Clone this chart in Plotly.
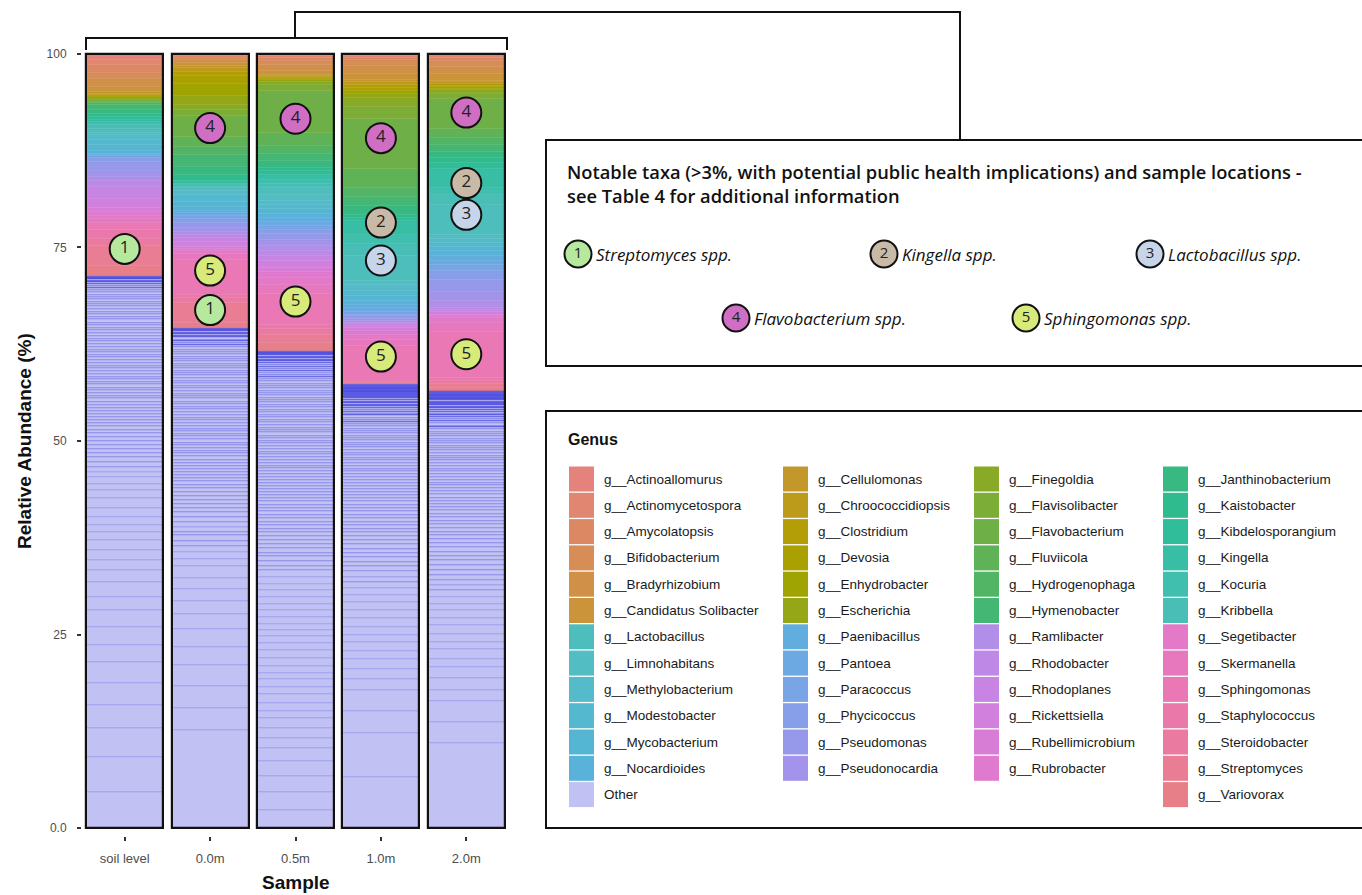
import math
import plotly.graph_objects as go

# ---------------- data ----------------
samples = ["soil level", "0.0m", "0.5m", "1.0m", "2.0m"]

genera = [
    "Actinoallomurus", "Actinomycetospora", "Amycolatopsis", "Bifidobacterium", "Bradyrhizobium",
    "Candidatus Solibacter", "Cellulomonas", "Chroococcidiopsis", "Clostridium", "Devosia",
    "Enhydrobacter", "Escherichia", "Finegoldia", "Flavisolibacter", "Flavobacterium",
    "Fluviicola", "Hydrogenophaga", "Hymenobacter", "Janthinobacterium", "Kaistobacter",
    "Kibdelosporangium", "Kingella", "Kocuria", "Kribbella", "Lactobacillus",
    "Limnohabitans", "Methylobacterium", "Modestobacter", "Mycobacterium", "Nocardioides",
    "Paenibacillus", "Pantoea", "Paracoccus", "Phycicoccus", "Pseudomonas",
    "Pseudonocardia", "Ramlibacter", "Rhodobacter", "Rhodoplanes", "Rickettsiella",
    "Rubellimicrobium", "Rubrobacter", "Segetibacter", "Skermanella", "Sphingomonas",
    "Staphylococcus", "Steroidobacter", "Streptomyces", "Variovorax",
]

# relative abundance (%) of each genus, in the order of `genera`
genus_soil = [0.8, 0.6, 1.1, 0.8, 1.0, 0.7, 0.2, 0.1, 0.1, 0.1,
              0.1, 0.2, 0.1, 0.1, 0.2, 0.1, 0.3, 0.7, 0.5, 0.4,
              0.3, 0.3, 0.4, 0.5, 0.5, 0.3, 0.6, 0.7, 0.7, 0.5,
              0.1, 0.1, 0.2, 0.6, 1.2, 0.7, 0.5, 0.8, 1.5, 1.2,
              0.5, 0.6, 0.4, 0.4, 1.0, 1.1, 0.9, 2.6, 1.3]
genus_0m = [0.2, 0.15, 0.15, 0.3, 0.4, 0.4, 0.3, 0.4, 0.6, 1.0,
            1.5, 1.2, 0.6, 0.9, 2.6, 1.4, 1.0, 1.5, 1.0, 0.8,
            0.2, 0.2, 0.2, 0.15, 0.15, 0.4, 0.6, 0.8, 0.7, 0.5,
            0.3, 0.3, 0.4, 0.5, 0.7, 0.5, 0.4, 0.4, 0.5, 0.6,
            0.3, 0.3, 0.4, 0.7, 4.5, 0.5, 0.6, 2.6, 0.6]
genus_05m = [0.3, 0.3, 0.3, 0.6, 0.7, 0.6, 0.1, 0.1, 0.1, 0.1,
             0.2, 0.3, 0.3, 0.8, 5.4, 1.7, 1.0, 1.0, 0.8, 0.5,
             0.5, 0.6, 0.5, 0.5, 0.9, 0.8, 0.5, 0.6, 0.6, 0.5,
             0.5, 0.5, 0.5, 0.6, 0.8, 0.7, 0.7, 0.6, 0.7, 0.8,
             0.6, 0.8, 0.8, 1.2, 4.0, 0.6, 0.7, 1.0, 1.1]
genus_1m = [0.3, 0.25, 0.25, 0.8, 1.0, 0.8, 0.3, 0.3, 0.4, 0.4,
            0.4, 0.5, 1.2, 1.5, 6.5, 2.4, 1.2, 1.2, 1.1, 0.4,
            0.4, 1.8, 1.2, 1.5, 3.2, 0.6, 0.7, 0.7, 0.6, 0.5,
            0.4, 0.5, 0.4, 0.2, 0.3, 0.3, 0.2, 0.2, 0.25, 0.25,
            0.4, 0.5, 0.6, 0.8, 4.5, 0.1, 0.1, 0.15, 0.15]
genus_2m = [0.2, 0.3, 0.4, 0.8, 0.9, 0.9, 0.2, 0.2, 0.2, 0.2,
            0.2, 0.2, 0.5, 0.7, 3.8, 1.2, 0.9, 0.9, 0.7, 0.7,
            0.8, 2.4, 1.0, 1.2, 3.9, 0.5, 0.5, 0.6, 0.5, 0.6,
            0.6, 0.6, 0.8, 1.1, 1.5, 1.2, 0.9, 0.3, 0.3, 0.3,
            0.2, 0.2, 0.7, 1.1, 6.0, 0.3, 0.4, 0.5, 0.4]

# "Other": cumulative tops (%) of the stacked rare-taxa pieces, bottom to top
other_soil = [4.7, 9.2, 12.9, 15.9, 18.7, 21.5, 23.6, 26.0, 28.2, 29.9, 31.8, 33.3, 34.6, 35.9,
              37.2, 38.3, 39.1, 40.2, 41.3, 42.6, 43.7, 44.5, 45.3, 46.0, 46.7, 47.3, 47.9, 48.5,
              49.0, 49.5, 50.0, 50.5, 51.0, 51.4, 51.9, 52.3, 52.7, 53.1, 53.5, 53.9, 54.3, 54.7,
              55.1, 55.5, 55.8, 56.2, 56.6, 56.9, 57.3, 57.6, 58.0, 58.3, 58.7, 59.0, 59.4, 59.7,
              60.1, 60.4, 60.8, 61.1, 61.5, 61.8, 62.2, 62.5, 62.9, 63.2, 63.6, 63.9, 64.3, 64.6,
              65.0, 65.3, 65.7, 66.0, 66.4, 66.7, 67.1, 67.4, 67.7, 68.0, 68.3, 68.6, 68.9, 69.2,
              69.5, 69.8, 70.0, 70.3, 70.5, 70.7, 70.9, 71.0, 71.1, 71.2, 71.3]
other_0m = [12.7, 15.5, 18.4, 21.1, 23.4, 25.7, 27.7, 29.4, 30.9, 32.3, 33.8, 34.8, 35.7, 36.5,
            37.1, 37.8, 38.3, 38.9, 39.6, 40.2, 40.8, 41.3, 41.9, 42.4, 42.9, 43.4, 43.9, 44.3,
            44.8, 45.2, 45.6, 46.0, 46.4, 46.8, 47.2, 47.6, 48.0, 48.4, 48.7, 49.1, 49.5, 49.8,
            50.2, 50.6, 50.9, 51.3, 51.6, 52.0, 52.3, 52.7, 53.0, 53.4, 53.7, 54.1, 54.4, 54.8,
            55.1, 55.5, 55.8, 56.1, 56.5, 56.8, 57.1, 57.5, 57.8, 58.1, 58.5, 58.8, 59.1, 59.4,
            59.7, 60.0, 60.3, 60.6, 60.9, 61.2, 61.5, 61.8, 62.1, 62.4, 62.6, 62.9, 63.1, 63.4,
            63.6, 63.8, 64.0, 64.15, 64.3, 64.4, 64.5, 64.6]
other_05m = [2.3, 4.7, 6.7, 8.7, 10.3, 11.7, 13.0, 14.2, 15.2, 16.2, 17.3, 18.3, 19.3, 20.1,
             21.0, 22.0, 23.0, 23.9, 24.8, 25.6, 26.4, 27.3, 28.2, 29.0, 29.9, 30.7, 31.6, 32.5,
             33.3, 33.9, 34.5, 35.1, 35.6, 36.2, 36.7, 37.2, 37.7, 38.2, 38.7, 39.2, 39.6, 40.1,
             40.5, 41.0, 41.4, 41.8, 42.2, 42.6, 43.0, 43.4, 43.8, 44.2, 44.6, 45.0, 45.4, 45.7,
             46.1, 46.5, 46.8, 47.2, 47.6, 47.9, 48.3, 48.6, 49.0, 49.3, 49.7, 50.0, 50.4, 50.7,
             51.1, 51.4, 51.7, 52.1, 52.4, 52.7, 53.1, 53.4, 53.7, 54.0, 54.4, 54.7, 55.0, 55.3,
             55.6, 55.9, 56.2, 56.5, 56.8, 57.1, 57.4, 57.7, 58.0, 58.3, 58.5, 58.8, 59.1, 59.3,
             59.6, 59.8, 60.1, 60.3, 60.5, 60.7, 60.9, 61.05, 61.2, 61.3, 61.4, 61.5, 61.6]
other_1m = [6.6, 12.3, 15.1, 17.9, 19.3, 20.6, 21.8, 22.9, 24.0, 25.0, 26.0, 27.2, 28.2, 29.2,
            30.1, 31.0, 31.8, 32.5, 33.2, 33.8, 34.4, 35.0, 35.6, 36.1, 36.7, 37.2, 37.7, 38.2,
            38.7, 39.2, 39.6, 40.1, 40.5, 41.0, 41.4, 41.8, 42.2, 42.6, 43.0, 43.4, 43.8, 44.2,
            44.6, 45.0, 45.3, 45.7, 46.1, 46.4, 46.8, 47.1, 47.5, 47.8, 48.2, 48.5, 48.8, 49.2,
            49.5, 49.8, 50.1, 50.4, 50.7, 51.0, 51.3, 51.6, 51.9, 52.2, 52.5, 52.7, 53.0, 53.3,
            53.5, 53.8, 54.0, 54.3, 54.5, 54.7, 54.9, 55.1, 55.3, 55.5, 55.65, 55.8, 55.95, 56.1,
            56.2, 56.3, 56.4, 56.5, 56.6, 56.7, 56.8, 56.9, 57.0, 57.1, 57.2, 57.3]
other_2m = [11.0, 13.7, 16.4, 17.9, 19.4, 20.8, 21.9, 23.1, 24.1, 25.1, 26.2, 27.2, 28.2, 29.0,
            29.9, 30.7, 31.4, 32.1, 32.7, 33.4, 34.0, 34.6, 35.2, 35.7, 36.3, 36.8, 37.3, 37.8,
            38.3, 38.8, 39.3, 39.7, 40.2, 40.6, 41.1, 41.5, 41.9, 42.3, 42.7, 43.1, 43.5, 43.9,
            44.3, 44.6, 45.0, 45.4, 45.7, 46.1, 46.4, 46.8, 47.1, 47.5, 47.8, 48.1, 48.5, 48.8,
            49.1, 49.4, 49.7, 50.0, 50.3, 50.6, 50.9, 51.2, 51.5, 51.8, 52.0, 52.3, 52.6, 52.8,
            53.1, 53.3, 53.5, 53.8, 54.0, 54.2, 54.4, 54.6, 54.8, 54.95, 55.1, 55.25, 55.4, 55.5,
            55.6, 55.7, 55.8, 55.9, 56.0, 56.1, 56.2, 56.3, 56.4, 56.5]

# notable taxa markers placed on the bars
circle_sample = ["soil level", "0.0m", "0.0m", "0.0m", "0.5m", "0.5m",
                 "1.0m", "1.0m", "1.0m", "1.0m", "2.0m", "2.0m", "2.0m", "2.0m"]
circle_taxon = [1, 4, 5, 1, 4, 5, 4, 2, 3, 5, 4, 2, 3, 5]
circle_value = [74.8, 90.4, 72.0, 66.9, 91.6, 68.0, 89.1, 78.2, 73.3, 60.9, 92.4, 83.3, 79.2, 61.2]

notable_taxa = ["Streptomyces spp.", "Kingella spp.", "Lactobacillus spp.",
                "Flavobacterium spp.", "Sphingomonas spp."]

y_ticks = [0, 25, 50, 75, 100]
y_tick_labels = ["0.0", "25", "50", "75", "100"]

# ---------------- styles ----------------
def hcl_hex(h):
    hh = h % 360
    bump = math.exp(-((hh - 195) / 50.0) ** 2)
    c = 72 - 26 * bump
    l = 65 + 6 * bump
    hr = math.radians(h)
    u = c * math.cos(hr)
    v = c * math.sin(hr)
    Xn, Yn, Zn = 95.047, 100.0, 108.883
    un = 4 * Xn / (Xn + 15 * Yn + 3 * Zn)
    vn = 9 * Yn / (Xn + 15 * Yn + 3 * Zn)
    Y = Yn * ((l + 16) / 116) ** 3
    up = u / (13 * l) + un
    vp = v / (13 * l) + vn
    X = Y * 9 * up / (4 * vp)
    Z = Y * (12 - 3 * up - 20 * vp) / (4 * vp)
    X, Y, Z = X / 100, Y / 100, Z / 100
    rgb = [3.2406 * X - 1.5372 * Y - 0.4986 * Z,
           -0.9689 * X + 1.8758 * Y + 0.0415 * Z,
           0.0557 * X - 0.2040 * Y + 1.0570 * Z]
    out = []
    for ch in rgb:
        ch = max(0.0, ch)
        ch = 12.92 * ch if ch <= 0.0031308 else 1.055 * ch ** (1 / 2.4) - 0.055
        out.append(int(round(max(0, min(1, ch)) * 255)))
    return "#%02X%02X%02X" % tuple(out)

n_gen = len(genera)
genus_color = {g: hcl_hex(15 + i * 360 / n_gen) for i, g in enumerate(genera)}
OTHER_COLOR = "#C1C1F3"


def other_line(size):
    # outlines of stacked rare pieces: dense thin pieces read darker
    if size < 0.25:
        return "rgba(45,45,220,0.95)"
    if size < 0.7:
        return "rgba(80,80,228,0.6)"
    return "rgba(95,95,230,0.45)"


circle_colors = {1: "#B6E89E", 2: "#C9BAA8", 3: "#C6D5E9", 4: "#CF6EC3", 5: "#D8EB7A"}

W, H = 1362, 895
FONT = "Liberation Sans, Arial, Helvetica, sans-serif"

fig = go.Figure()

genus_table = [genus_soil, genus_0m, genus_05m, genus_1m, genus_2m]
other_table = [other_soil, other_0m, other_05m, other_1m, other_2m]
totals = []
for s, gvals, olines in zip(samples, genus_table, other_table):
    sizes, bases, colors, lcolors, lwidths = [], [], [], [], []
    prev = 0.0
    for top in olines:
        sz = top - prev
        sizes.append(sz)
        bases.append(prev)
        colors.append(OTHER_COLOR)
        lcolors.append(other_line(sz))
        lwidths.append(0.7)
        prev = top
    cum = prev
    for i in reversed(range(n_gen)):
        v = gvals[i]
        if v <= 0:
            continue
        c = genus_color[genera[i]]
        sizes.append(v)
        bases.append(cum)
        colors.append(c)
        lcolors.append(c)
        lwidths.append(0.4)
        cum += v
    totals.append(cum)
    fig.add_trace(go.Bar(
        x=[s] * len(sizes), y=sizes, base=bases, width=0.9,
        marker=dict(color=colors, line=dict(color=lcolors, width=lwidths)),
        showlegend=False, hoverinfo="skip", xaxis="x", yaxis="y"))

# bar outlines
fig.add_trace(go.Bar(
    x=samples, y=totals, base=[0] * len(samples), width=0.9,
    marker=dict(color="rgba(0,0,0,0)", line=dict(color="#111111", width=2.2)),
    showlegend=False, hoverinfo="skip", xaxis="x", yaxis="y"))

# notable taxa circles on bars
fig.add_trace(go.Scatter(
    x=circle_sample, y=circle_value, mode="markers+text",
    text=[str(t) for t in circle_taxon], textposition="middle center",
    textfont=dict(family="Open Sans, sans-serif", size=17, color="#222222"),
    marker=dict(size=30, color=[circle_colors[t] for t in circle_taxon],
                line=dict(color="#111111", width=2)),
    showlegend=False, hoverinfo="skip", xaxis="x", yaxis="y", cliponaxis=False))

# ---------------- overlay (pixel) axis for legend boxes ----------------
shapes = []
line_style = dict(color="#111111", width=2)
shapes.append(dict(type="path", xref="x2", yref="y2",
                   path="M 86 50 L 86 38 L 507 38 L 507 50", line=line_style))
shapes.append(dict(type="path", xref="x2", yref="y2",
                   path="M 295 38 L 295 12 L 960 12 L 960 140", line=line_style))
shapes.append(dict(type="rect", xref="x2", yref="y2", x0=546, x1=1370, y0=140, y1=366,
                   line=line_style))
shapes.append(dict(type="rect", xref="x2", yref="y2", x0=546, x1=1370, y0=411, y1=828,
                   line=line_style))

annotations = []
# notable taxa box
annotations.append(dict(
    xref="x2", yref="y2", x=565, y=183, xanchor="left", yanchor="middle", align="left",
    text="Notable taxa (>3%, with potential public health implications) and sample locations -<br>"
         "see Table 4 for additional information",
    showarrow=False, font=dict(family="Open Sans, sans-serif", size=18.3, color="#111111",
                               weight=600)))
notable_pos = [(578, 254), (884, 254), (1150, 254), (736, 318), (1026, 318)]
fig.add_trace(go.Scatter(
    x=[p[0] for p in notable_pos], y=[p[1] for p in notable_pos], mode="markers+text",
    text=[str(i + 1) for i in range(len(notable_taxa))], textposition="middle center",
    textfont=dict(family="Open Sans, sans-serif", size=15, color="#222222"),
    marker=dict(size=27, color=[circle_colors[i + 1] for i in range(len(notable_taxa))],
                line=dict(color="#111111", width=2)),
    showlegend=False, hoverinfo="skip", xaxis="x2", yaxis="y2"))
for (px, py), name in zip(notable_pos, notable_taxa):
    annotations.append(dict(
        xref="x2", yref="y2", x=px + 16, y=py, xanchor="left", yanchor="middle",
        text=name, showarrow=False,
        font=dict(family="Open Sans, sans-serif", size=17, color="#111111", style="italic")))

# genus legend
annotations.append(dict(xref="x2", yref="y2", x=566, y=439, xanchor="left", yanchor="middle",
                        text="<b>Genus</b>", showarrow=False,
                        font=dict(family=FONT, size=16, color="#111111")))
legend_columns = [
    ["g__" + g for g in genera[0:6] + genera[24:30]] + ["Other"],
    ["g__" + g for g in genera[6:12] + genera[30:36]],
    ["g__" + g for g in genera[12:18] + genera[36:42]],
    ["g__" + g for g in genera[18:24] + genera[42:49]],
]
col_x = [581.5, 795.5, 986.5, 1175.5]
row_y0, row_pitch = 479.0, 26.3
sw_x, sw_y, sw_c = [], [], []
for ci, col in enumerate(legend_columns):
    for ri, label in enumerate(col):
        cx = col_x[ci]
        cy = row_y0 + ri * row_pitch
        name = label[3:] if label.startswith("g__") else label
        sw_x.append(cx)
        sw_y.append(cy)
        sw_c.append(genus_color.get(name, OTHER_COLOR))
        annotations.append(dict(xref="x2", yref="y2", x=cx + 20, y=cy, xanchor="left",
                                yanchor="middle", text=label, showarrow=False,
                                font=dict(family=FONT, size=13.5, color="#1a1a1a")))
fig.add_trace(go.Scatter(
    x=sw_x, y=sw_y, mode="markers",
    marker=dict(symbol="square", size=25, color=sw_c, line=dict(width=0)),
    showlegend=False, hoverinfo="skip", xaxis="x2", yaxis="y2"))

# axis titles
annotations.append(dict(xref="x2", yref="y2", x=24, y=441, text="<b>Relative Abundance (%)</b>",
                        textangle=-90, showarrow=False, xanchor="center", yanchor="middle",
                        font=dict(family=FONT, size=19, color="#111111")))
annotations.append(dict(xref="x2", yref="y2", x=296, y=882, text="<b>Sample</b>",
                        showarrow=False, xanchor="center", yanchor="middle",
                        font=dict(family=FONT, size=19, color="#111111")))

fig.update_layout(
    width=W, height=H, margin=dict(l=0, r=0, t=0, b=0),
    paper_bgcolor="white", plot_bgcolor="rgba(0,0,0,0)",
    barmode="overlay", bargap=0, showlegend=False,
    shapes=shapes, annotations=annotations,
    xaxis=dict(domain=[82 / W, 509 / W], type="category", categoryorder="array",
               categoryarray=samples, range=[-0.5, 4.5], showgrid=False, zeroline=False,
               showline=False, ticks="outside", ticklen=4, tickwidth=1.5, tickcolor="#333333",
               tickfont=dict(family=FONT, size=13, color="#4D4D4D"), ticklabelstandoff=6,
               fixedrange=True, automargin=False),
    yaxis=dict(domain=[(H - 836) / H, (H - 46) / H], range=[-1, 101], tickvals=y_ticks,
               ticktext=y_tick_labels, showgrid=False, zeroline=False, showline=False,
               ticks="outside", ticklen=4, tickwidth=1.5, tickcolor="#333333",
               tickfont=dict(family=FONT, size=12, color="#4D4D4D"), ticklabelstandoff=8,
               fixedrange=True, automargin=False),
    xaxis2=dict(domain=[0, 1], range=[0, W], visible=False, fixedrange=True, anchor="y2"),
    yaxis2=dict(domain=[0, 1], range=[H, 0], visible=False, fixedrange=True, anchor="x2"),
)

fig.write_html("out.html", config={"displayModeBar": False},
               post_script="document.body.style.margin='0px';")
